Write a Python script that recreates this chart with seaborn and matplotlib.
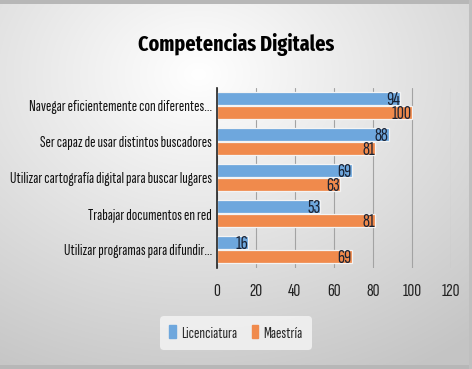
import numpy as np
import pandas as pd
import matplotlib
matplotlib.use("Agg")
import matplotlib.pyplot as plt
import seaborn as sns

categories = [
    "Navegar eficientemente con diferentes...",
    "Ser capaz de usar distintos buscadores",
    "Utilizar cartografía digital para buscar lugares",
    "Trabajar documentos en red",
    "Utilizar programas para difundir...",
]
licenciatura = [94, 88, 69, 53, 16]
maestria = [100, 81, 63, 81, 69]
series_names = ["Licenciatura", "Maestría"]
colors = ["#6ea7dd", "#f08a4c"]
xticks = [0, 20, 40, 60, 80, 100, 120]
title = "Competencias Digitales"

sns.set_theme(style="white")
FAM = ["Sofia Sans Extra Condensed", "DejaVu Sans"]
TITLE_FAM = ["Fira Sans Extra Condensed", "DejaVu Sans"]
plt.rcParams["font.family"] = FAM

df = pd.DataFrame({
    "cat": categories * 2,
    "val": licenciatura + maestria,
    "serie": [series_names[0]] * len(categories) + [series_names[1]] * len(categories),
})

W, H = 472, 369
fig = plt.figure(figsize=(W / 100, H / 100), dpi=100)
renderer = fig.canvas.get_renderer()


def fit_size(s, target_px, weight="normal", family=None):
    t = fig.text(0, 0, s, fontsize=10, fontweight=weight, family=family or FAM)
    w = t.get_window_extent(renderer).width
    t.remove()
    return 10 * target_px / w


fs_ylab = fit_size(categories[2], 202)
fs_title = fit_size(title, 196, "bold", TITLE_FAM)
fs_tick = fit_size("100", 19)
fs_val = fit_size("100", 20)
fs_leg = fit_size(series_names[0], 56)

# background gradient
bg = fig.add_axes([0, 0, 1, 1], zorder=-10)
yy, xx = np.mgrid[0:H, 0:W]
cx, cy = W * 0.42, H * 0.2
d = np.sqrt(((xx - cx) / W) ** 2 + ((yy - cy) / H) ** 2)
g = np.clip(1.0 - 0.25 * d, 0.77, 1.0)
img = np.dstack([g, g, g])
img[:4, :, :] = 0.72
img[-4:, :, :] = 0.72
img[:, -3:, :] = 0.75
bg.imshow(img, aspect="auto", extent=[0, W, H, 0])
bg.axis("off")

ax = fig.add_axes([217 / W, 1 - 267.5 / H, (451 - 217) / W, 180 / H])
ax.patch.set_alpha(0)
sns.barplot(data=df, x="val", y="cat", hue="serie", palette=colors, orient="h",
            ax=ax, width=0.78, gap=0.04, saturation=1, edgecolor="#f4f4f4",
            linewidth=0.9, legend=True)

ax.set_xlim(0, 120)
ax.set_ylim(4.5, -0.5)
ax.set_xticks(xticks)
ax.set_xticklabels([str(t) for t in xticks], fontsize=fs_tick, color="#222222")
ax.tick_params(axis="x", length=0, pad=12)
ax.tick_params(axis="y", length=0, pad=3.5, labelsize=fs_ylab, labelcolor="#111111")
ax.set_xlabel("")
ax.set_ylabel("")
ax.grid(axis="x", color="#a3a3a3", linewidth=0.8)
ax.set_axisbelow(True)
for s in ["top", "right", "bottom"]:
    ax.spines[s].set_visible(False)
ax.spines["left"].set_color("#222222")
ax.spines["left"].set_linewidth(1.2)

for cont in ax.containers:
    for bar in cont:
        v = bar.get_width()
        ax.text(v, bar.get_y() + bar.get_height() * 0.58, f"{v:g}", ha="right", va="center",
                fontsize=fs_val, color="#1a2233")

ax.get_legend().remove()
handles = [plt.Rectangle((0, 0), 1, 1, color=c) for c in colors]
fig.legend(handles, series_names, loc="center", bbox_to_anchor=(236 / W, 1 - 333 / H),
           ncol=2, frameon=True, fontsize=fs_leg, handlelength=0.4, handleheight=0.8,
           handletextpad=0.3, columnspacing=0.9, facecolor="#f3f3f3", edgecolor="none",
           framealpha=0.85, borderpad=0.55)

fig.text(236 / W, 1 - 44 / H, title, ha="center", va="center", family=TITLE_FAM,
         fontsize=fs_title, fontweight="bold", color="black")

fig.savefig("out.png", dpi=100)
